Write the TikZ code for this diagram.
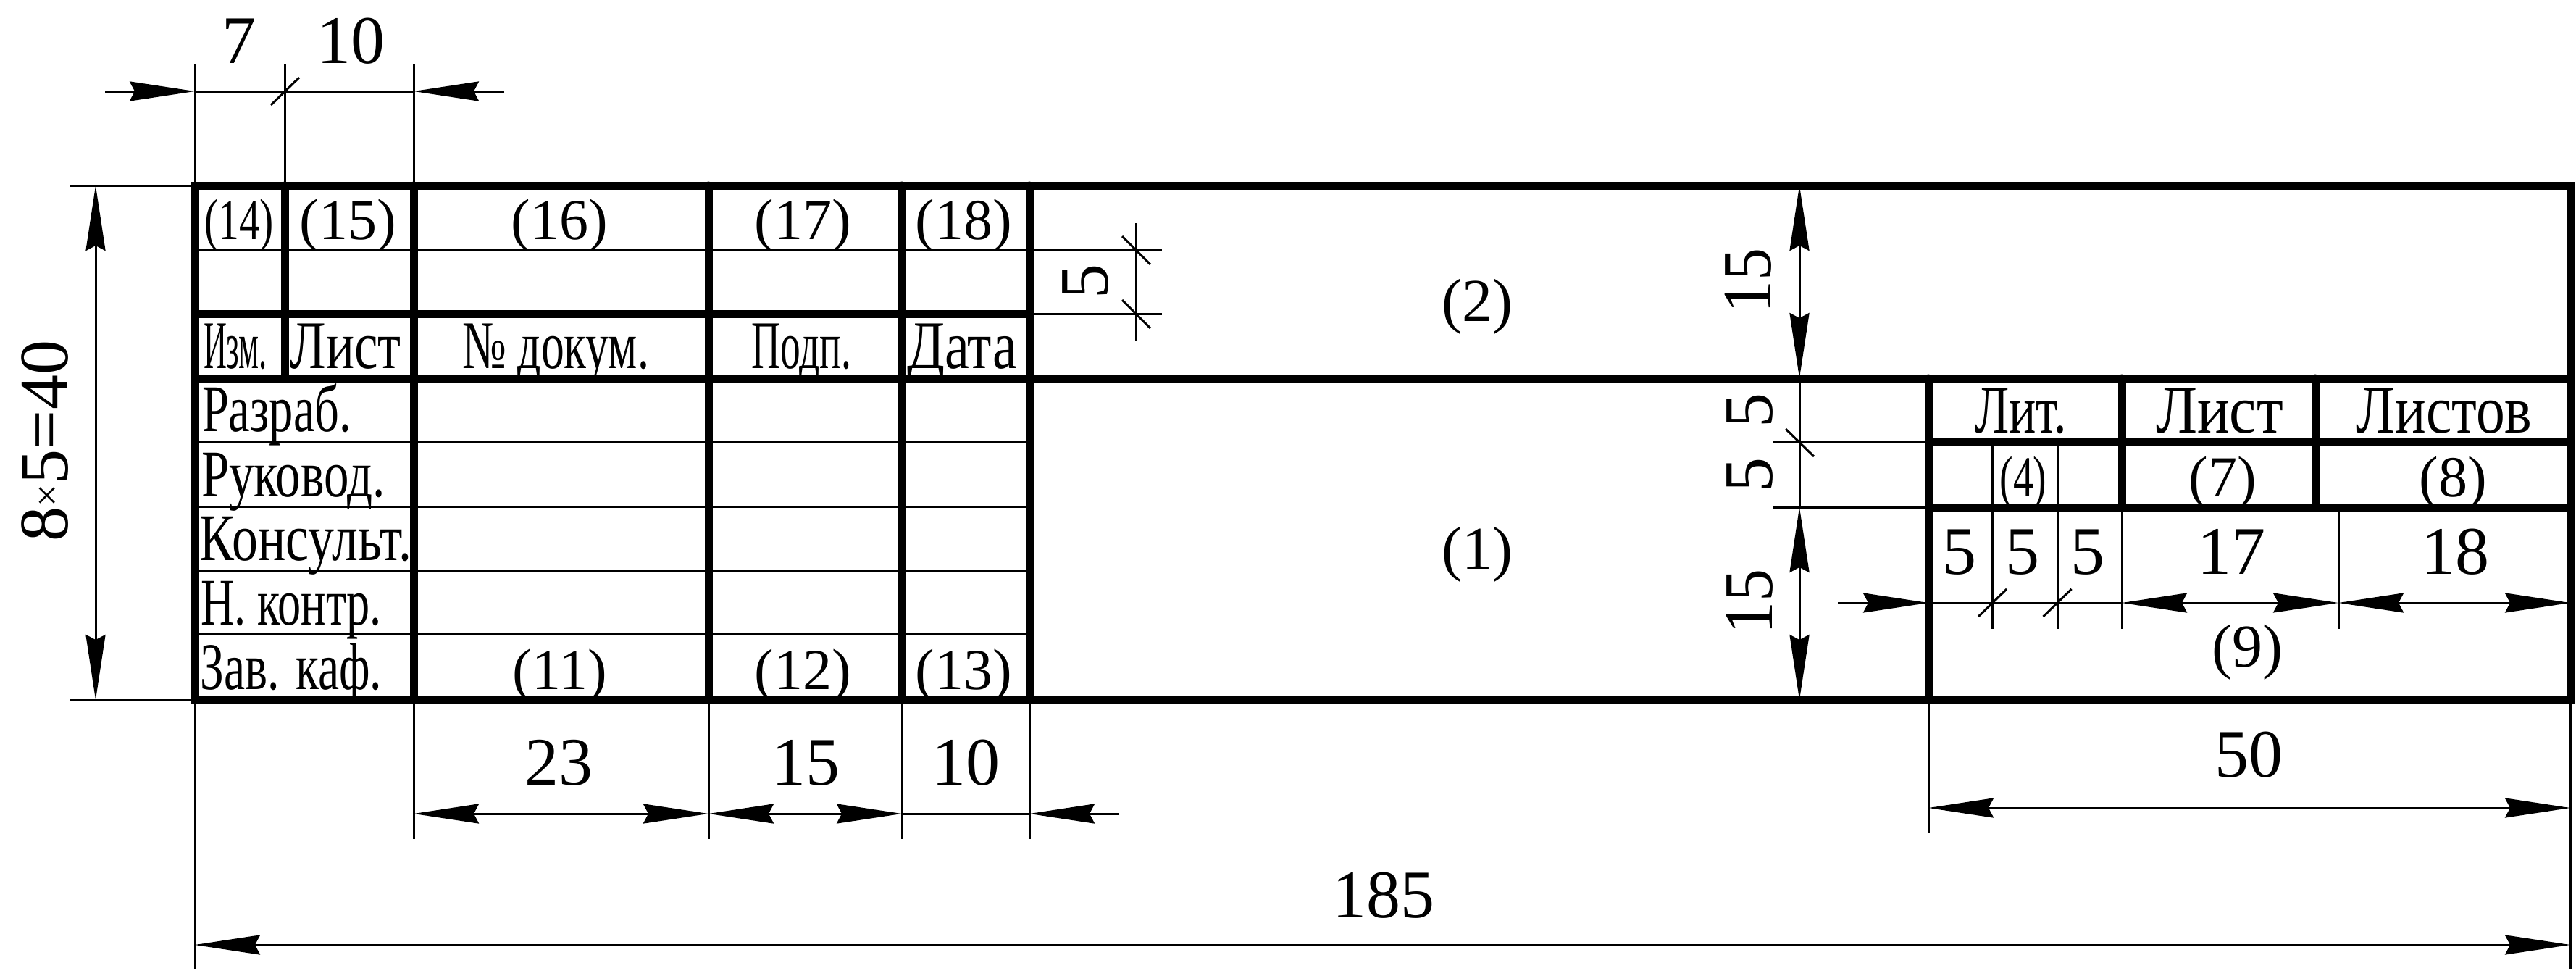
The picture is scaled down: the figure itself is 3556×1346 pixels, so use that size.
\documentclass[tikz,border=0pt]{standalone}
\usepackage{graphicx}
\usepackage{fontspec}
\setmainfont{Liberation Serif}
\usetikzlibrary{arrows.meta}
\tikzset{
  thickln/.style={line width=11pt,line cap=round},
  thinln/.style={line width=3pt},
  dimtip/.tip={Stealth[length=90pt,width=27pt,inset=7pt,sep=0pt]},
  twoway/.style={thinln,{dimtip}-{dimtip}},
  oneway/.style={thinln,-{dimtip}},
  lab/.style={inner sep=0pt,outer sep=0pt,anchor=base},
  vlab/.style={inner sep=0pt,outer sep=0pt,anchor=base,rotate=90},
}
\newcommand{\sz}[1]{\fontsize{#1pt}{#1pt}\selectfont}
% name, centre x, baseline y, text width, font size, text
\newcommand{\fit}[6]{\node[lab] (#1) at (#2,#3) {\resizebox{#4pt}{\height}{\sz{#5}#6}};}
% name, centre x, baseline y, font size, text
\newcommand{\nat}[5]{\node[lab] (#1) at (#2,#3) {\sz{#4}#5};}
% name, baseline x, centre y, text width, text
\newcommand{\rot}[5]{\node[vlab] (#1) at (#2,#3) {\resizebox{#4pt}{\height}{\sz{96}#5}};}
\begin{document}
\begin{tikzpicture}[x=1pt,y=-1pt]
\useasboundingbox (0,0) rectangle (3556,1346);
% thin rows
\foreach \y in {345,610,699,787,875} \draw[thinln] (269,\y) -- (1421,\y);
% thick grid
\draw[thickln] (269,256) rectangle (3548,966);
\draw[thickln] (269,433) -- (1421,433);
\draw[thickln] (269,522) -- (3548,522);
\draw[thickln] (393,256) -- (393,522);
\foreach \x in {571,978,1245,1421} \draw[thickln] (\x,256) -- (\x,966);
\draw[thickln] (2662,522) -- (2662,966);
\draw[thickln] (2662,610) -- (3548,610);
\draw[thickln] (2662,700) -- (3548,700);
\draw[thickln] (2929,522) -- (2929,700);
\draw[thickln] (3196,522) -- (3196,700);
% top dimensions
\foreach \x in {269,393,571} \draw[thinln] (\x,89) -- (\x,256);
\draw[oneway] (145,126) -- (269,126);
\draw[thinln] (269,126) -- (571,126);
\draw[oneway] (696,126) -- (571,126);
\draw[thinln] (374,145) -- (413,107);
% left dimension
\draw[thinln] (97,256) -- (269,256);
\draw[thinln] (97,966) -- (269,966);
\draw[twoway] (132,256) -- (132,966);
% inner 5 dimension
\draw[thinln] (1421,345) -- (1604,345);
\draw[thinln] (1421,433) -- (1604,433);
\draw[thinln] (1568,308) -- (1568,470);
\draw[thinln] (1549,326) -- (1588,365);
\draw[thinln] (1549,414) -- (1588,453);
% middle vertical dimensions
\draw[twoway] (2484,256) -- (2484,522);
\draw[thinln] (2484,522) -- (2484,700);
\draw[twoway] (2484,700) -- (2484,966);
\draw[thinln] (2448,610) -- (2662,610);
\draw[thinln] (2448,700) -- (2662,700);
\draw[thinln] (2465,592) -- (2504,630);
% lower right dimensions
\foreach \x in {2750.5,2840} \draw[thinln] (\x,610) -- (\x,868);
\foreach \x in {2929,3228} \draw[thinln] (\x,700) -- (\x,868);
\draw[oneway] (2537,832) -- (2662,832);
\draw[thinln] (2662,832) -- (2929,832);
\draw[twoway] (2929,832) -- (3228,832);
\draw[twoway] (3228,832) -- (3548,832);
\draw[thinln] (2731,851) -- (2770,813);
\draw[thinln] (2820.5,851) -- (2859.5,813);
% bottom dimensions
\draw[thinln] (269,966) -- (269,1338);
\draw[thinln] (3548,966) -- (3548,1338);
\draw[thinln] (2662,966) -- (2662,1149);
\foreach \x in {571,978,1245,1421} \draw[thinln] (\x,966) -- (\x,1158);
\draw[twoway] (571,1123) -- (978,1123);
\draw[twoway] (978,1123) -- (1245,1123);
\draw[thinln] (1245,1123) -- (1421,1123);
\draw[oneway] (1545,1123) -- (1421,1123);
\draw[twoway] (2662,1115) -- (3548,1115);
\draw[twoway] (269,1304) -- (3548,1304);
% dimension numbers
\nat{d7}{330}{87}{94}{7}
\nat{d10a}{484}{87}{94}{10}
\nat{d23}{771}{1083}{94}{23}
\nat{d15}{1112}{1083}{94}{15}
\nat{d10b}{1333}{1083}{94}{10}
\nat{d185}{1910}{1266}{94}{185}
\nat{d50}{3104}{1072}{94}{50}
\nat{da}{2705}{792}{94}{5}
\nat{db}{2792}{792}{94}{5}
\nat{dc}{2882}{792}{94}{5}
\nat{dd}{3080}{792}{94}{17}
\nat{de}{3389}{792}{94}{18}
\node[vlab] (dtot) at (93,608.5) {\sz{96}8\raisebox{10pt}{\sz{55}×}5=40};
\rot{vfive}{1529}{388}{48}{5}
\rot{vfa}{2444}{387}{90}{15}
\rot{vfb}{2446}{566}{48}{5}
\rot{vfc}{2446}{655}{48}{5}
\rot{vfd}{2446}{830}{90}{15}
% parenthesised numbers
\fit{p14}{330}{330}{96}{80}{(14)}
\nat{p15}{480}{330}{80}{(15)}
\nat{p16}{772}{330}{80}{(16)}
\nat{p17}{1108}{330}{80}{(17)}
\nat{p18}{1330}{330}{80}{(18)}
\nat{p11}{773}{951}{80}{(11)}
\nat{p12}{1108}{951}{80}{(12)}
\nat{p13}{1330}{951}{80}{(13)}
\fit{p4}{2793}{685}{65}{80}{(4)}
\nat{p7}{3068}{685}{80}{(7)}
\nat{p8}{3386.5}{685}{80}{(8)}
\nat{p9}{3102.5}{920}{84}{(9)}
\nat{p2}{2039}{443}{84}{(2)}
\nat{p1}{2039}{785}{84}{(1)}
% header labels
\fit{izm}{325}{508}{88}{94}{Изм.}
\fit{list}{477}{508}{153}{94}{Лист}
\fit{dok}{767}{508}{258}{94}{№ докум.}
\fit{podp}{1106}{508}{138}{94}{Подп.}
\fit{data}{1328}{508}{152}{94}{Дата}
\fit{razr}{382}{595}{206}{92}{Разраб.}
\fit{ruk}{405}{685}{254}{92}{Руковод.}
\fit{kons}{422}{773}{292}{92}{Консульт.}
\fit{nk}{402}{862}{250}{92}{Н. контр.}
\fit{zav}{402}{951}{250}{92}{Зав. каф.}
\fit{lit}{2789.5}{597}{127}{94}{Лит.}
\fit{lista}{3064}{597}{176}{94}{Лист}
\fit{listov}{3374}{597}{243}{94}{Листов}
\end{tikzpicture}
\end{document}
